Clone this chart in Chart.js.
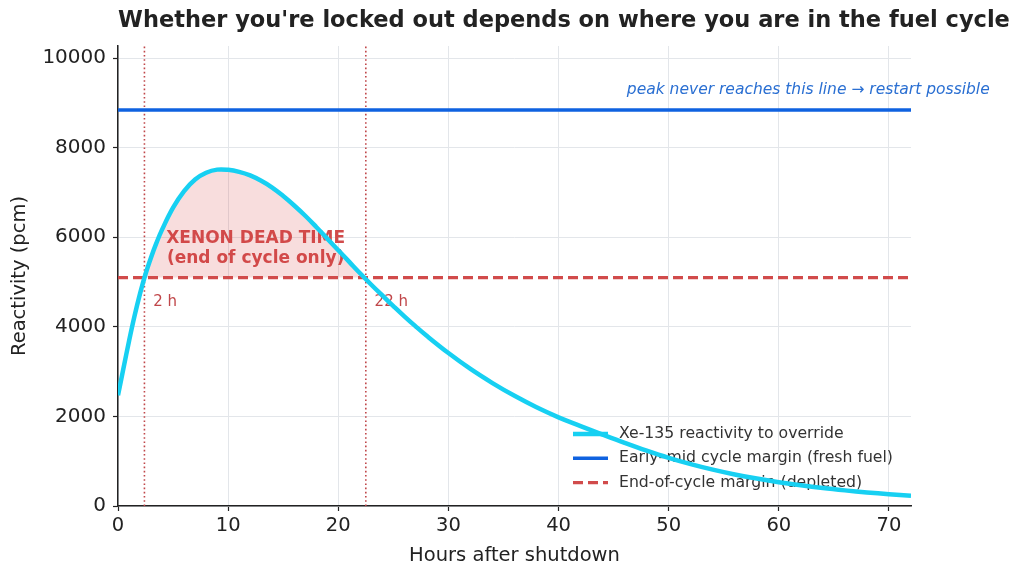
<!DOCTYPE html>
<html>
<head>
<meta charset="utf-8">
<script src="https://cdn.jsdelivr.net/npm/chart.js@4.4.1/dist/chart.umd.min.js"></script>
<style>
  html, body { margin: 0; padding: 0; background: #ffffff; }
  canvas { display: block; }
</style>
</head>
<body>
<canvas id="mychart" width="1024" height="578"></canvas>
<script>
// hours after shutdown / Xe-135 reactivity (pcm)
const hours = [0, 0.5, 1, 1.5, 2, 2.5, 3, 3.5, 4, 5, 6, 7, 8, 9, 10, 11, 12, 13, 14, 15, 16, 17, 18, 19, 20, 21, 22, 23, 24,
    25, 26, 27, 28, 30, 32, 34, 36, 38, 40, 42, 44, 46, 48, 50, 52, 54, 56, 58, 60, 62, 64, 66, 68, 70, 72];
const xenonPcm = [2470, 3080, 3680, 4240, 4740, 5180, 5550, 5880, 6170, 6660, 7030, 7290, 7440, 7510, 7505, 7460, 7380,
    7260, 7110, 6920, 6710, 6480, 6230, 5970, 5710, 5450, 5190, 4940, 4700,
    4465, 4235, 4015, 3805, 3415, 3060, 2745, 2460, 2205, 1980, 1785, 1595, 1410, 1235, 1075, 935, 812, 705, 612,
    532, 462, 401, 349, 303, 263, 228];

// shutdown margins (pcm)
const freshMargin = 8840;
const depletedMargin = 5100;
// dead time window (hours)
const deadStart = 2.4;
const deadEnd = 22.5;

const xTicks = [0, 10, 20, 30, 40, 50, 60, 70];
const yTicks = [0, 2000, 4000, 6000, 8000, 10000];
const xMax = 72;
const yMax = 10270;

const seriesLabels = [
    'Xe-135 reactivity to override',
    'Early\u2013mid cycle margin (fresh fuel)',
    'End-of-cycle margin (depleted)'
];

const FONT = 'DejaVu Sans, sans-serif';
const cyan = '#17d0f2';
const blue = '#0f62e0';
const red = '#d14b4b';
const dotRed = '#c0474a';

Chart.defaults.font.family = FONT;
Chart.defaults.color = '#222222';

const curvePoints = hours.map((h, i) => ({ x: h, y: xenonPcm[i] }));

// shaded region: curve above the depleted margin, closed at the two crossings
const deadPoints = [{ x: deadStart, y: depletedMargin }]
    .concat(curvePoints.filter(p => p.x > deadStart && p.x < deadEnd))
    .concat([{ x: deadEnd, y: depletedMargin }]);

const titleText = {
    id: 'titleText',
    afterDraw(chart) {
        const { ctx } = chart;
        ctx.save();
        ctx.font = `bold 22.5px ${FONT}`;
        ctx.fillStyle = '#222222';
        ctx.textAlign = 'center';
        ctx.textBaseline = 'middle';
        ctx.fillText("Whether you're locked out depends on where you are in the fuel cycle", 564, 21);
        ctx.restore();
    }
};

// annotations + legend go under the curve, like in the picture
const annotations = {
    id: 'annotations',
    beforeDatasetsDraw(chart) {
        const { ctx, chartArea, scales } = chart;
        const xs = scales.x;
        const ys = scales.y;
        ctx.save();

        ctx.textBaseline = 'middle';
        ctx.textAlign = 'center';
        ctx.font = `bold 17px ${FONT}`;
        ctx.fillStyle = red;
        const cx = xs.getPixelForValue(12.5);
        const cy = ys.getPixelForValue(5750);
        ctx.fillText('XENON DEAD TIME', cx, cy - 10);
        ctx.fillText('(end of cycle only)', cx, cy + 10);

        ctx.textAlign = 'left';
        ctx.font = `15px ${FONT}`;
        ctx.fillStyle = dotRed;
        ctx.fillText('2 h', xs.getPixelForValue(deadStart + 0.8), ys.getPixelForValue(4550));
        ctx.fillText('22 h', xs.getPixelForValue(deadEnd + 0.8), ys.getPixelForValue(4550));

        ctx.font = `italic 15.5px ${FONT}`;
        ctx.fillStyle = '#2a6fd2';
        ctx.fillText('peak never reaches this line \u2192 restart possible', xs.getPixelForValue(46.2), ys.getPixelForValue(9290));

        // legend
        const items = chart.data.datasets.filter(ds => ds.inLegend);
        const textX = chartArea.right - 292;
        ctx.font = `15.7px ${FONT}`;
        items.forEach((ds, i) => {
            const y = chartArea.bottom - 72 + i * 24.3;
            ctx.beginPath();
            ctx.strokeStyle = ds.borderColor;
            ctx.lineWidth = ds.borderWidth;
            ctx.setLineDash(ds.borderDash || []);
            ctx.moveTo(textX - 46, y);
            ctx.lineTo(textX - 11, y);
            ctx.stroke();
            ctx.setLineDash([]);
            ctx.fillStyle = '#333333';
            ctx.fillText(ds.label, textX, y);
        });

        ctx.restore();
    }
};

function keepTicks(list) {
    return (scale) => {
        scale.ticks = list.map(v => ({ value: v }));
    };
}

new Chart(document.getElementById('mychart'), {
    type: 'line',
    plugins: [annotations, titleText],
    data: {
        datasets: [
            {
                label: seriesLabels[0],
                inLegend: true,
                data: curvePoints,
                borderColor: cyan,
                borderWidth: 4.5,
                pointRadius: 0,
                tension: 0.4,
                fill: false
            },
            {
                label: seriesLabels[1],
                inLegend: true,
                data: [{ x: 0, y: freshMargin }, { x: xMax, y: freshMargin }],
                borderColor: blue,
                borderWidth: 3.5,
                pointRadius: 0,
                fill: false
            },
            {
                label: seriesLabels[2],
                inLegend: true,
                data: [{ x: 0, y: depletedMargin }, { x: xMax, y: depletedMargin }],
                borderColor: red,
                borderWidth: 3.2,
                borderDash: [10, 5],
                pointRadius: 0,
                fill: false
            },
            {
                label: 'start',
                data: [{ x: deadStart, y: 0 }, { x: deadStart, y: yMax }],
                borderColor: dotRed,
                borderWidth: 1.6,
                borderDash: [1.6, 2.6],
                pointRadius: 0,
                fill: false
            },
            {
                label: 'end',
                data: [{ x: deadEnd, y: 0 }, { x: deadEnd, y: yMax }],
                borderColor: dotRed,
                borderWidth: 1.6,
                borderDash: [1.6, 2.6],
                pointRadius: 0,
                fill: false
            },
            {
                label: 'dead time',
                data: deadPoints,
                borderWidth: 0,
                borderColor: 'rgba(0,0,0,0)',
                backgroundColor: 'rgba(214, 69, 69, 0.18)',
                pointRadius: 0,
                tension: 0.4,
                fill: { value: depletedMargin }
            }
        ]
    },
    options: {
        responsive: false,
        maintainAspectRatio: false,
        animation: false,
        layout: {
            padding: { top: 46, left: 0, right: 113, bottom: 0 }
        },
        plugins: {
            legend: { display: false },
            tooltip: { enabled: false },
            title: { display: false }
        },
        scales: {
            x: {
                type: 'linear',
                min: 0,
                max: xMax,
                afterBuildTicks: keepTicks(xTicks),
                afterFit(scale) { scale.height = 72; },
                ticks: {
                    font: { size: 19.5 },
                    color: '#222222',
                    padding: 3,
                    maxRotation: 0,
                    callback(value) { return String(value); }
                },
                grid: { color: '#e3e6ea', lineWidth: 1, tickColor: '#222222', tickLength: 5, tickWidth: 1.2 },
                border: { color: '#222222', width: 1.5 },
                title: {
                    display: true,
                    text: 'Hours after shutdown',
                    font: { size: 19.5 },
                    color: '#222222',
                    padding: { top: 0, bottom: 10 }
                }
            },
            y: {
                type: 'linear',
                min: 0,
                max: yMax,
                afterBuildTicks: keepTicks(yTicks),
                afterFit(scale) { scale.width = 118; },
                ticks: {
                    font: { size: 20 },
                    color: '#222222',
                    padding: 7,
                    callback(value) { return String(value); }
                },
                grid: { color: '#e3e6ea', lineWidth: 1, tickColor: '#222222', tickLength: 5, tickWidth: 1.2 },
                border: { color: '#222222', width: 1.5 },
                title: {
                    display: true,
                    text: 'Reactivity (pcm)',
                    font: { size: 19.5 },
                    color: '#222222',
                    padding: { top: 8, bottom: 0 }
                }
            }
        }
    }
});
</script>
</body>
</html>
